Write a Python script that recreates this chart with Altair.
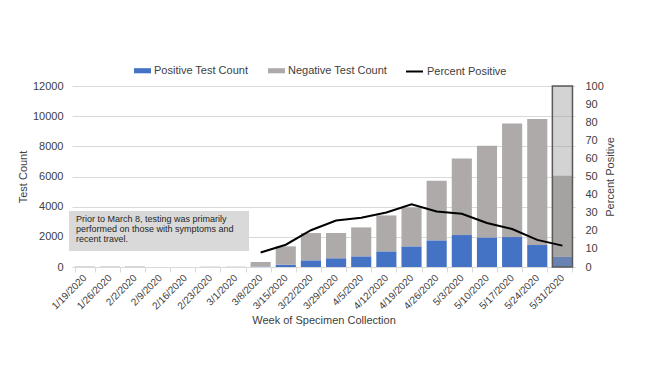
import altair as alt
import pandas as pd

weeks = ["1/19/2020", "1/26/2020", "2/2/2020", "2/9/2020", "2/16/2020", "2/23/2020",
         "3/1/2020", "3/8/2020", "3/15/2020", "3/22/2020", "3/29/2020", "4/5/2020",
         "4/12/2020", "4/19/2020", "4/26/2020", "5/3/2020", "5/10/2020", "5/17/2020",
         "5/24/2020", "5/31/2020"]
positive = [0, 0, 0, 0, 0, 0, 0, 28, 154, 441, 574, 706, 1037, 1368, 1766, 2118,
            1964, 1986, 1456, 684]
negative = [30, 30, 30, 0, 0, 20, 20, 303, 1214, 1809, 1676, 1920, 2383, 2582,
            3949, 5076, 6068, 7525, 8363, 5363]
pct_weeks = ["3/8/2020", "3/15/2020", "3/22/2020", "3/29/2020", "4/5/2020",
             "4/12/2020", "4/19/2020", "4/26/2020", "5/3/2020", "5/10/2020",
             "5/17/2020", "5/24/2020", "5/31/2020"]
pct_positive = [8.0, 12.3, 20.3, 25.7, 27.2, 30.1, 34.7, 30.7, 29.4, 24.3, 21.0, 15.0, 11.8]
partial_week = ["5/31/2020"]

series_names = ["Positive Test Count", "Negative Test Count"]
bar_colors = ["#4472C4", "#AEAAAA"]

rows = []
for w, p, n in zip(weeks, positive, negative):
    rows.append({"week": w, "series": series_names[0], "count": p, "ord": 0})
    rows.append({"week": w, "series": series_names[1], "count": n, "ord": 1})
bars_df = pd.DataFrame(rows)
line_df = pd.DataFrame({"week": pct_weeks, "pct": pct_positive,
                        "label": ["Percent Positive"] * len(pct_weeks)})
overlay_df = pd.DataFrame({"week": partial_week, "lo": [0], "hi": [12000]})
note_df = pd.DataFrame({"t": ["Prior to March 8, testing was primarily\nperformed on those with symptoms and\nrecent travel."]})

FONT = "Liberation Sans"

x_axis = alt.Axis(labelAngle=-45, labelAlign="right", labelBaseline="middle",
                  labelFontSize=10, labelColor="#404040", labelPadding=4,
                  tickBand="extent", tickSize=5, tickColor="#d9d9d9",
                  domainColor="#d9d9d9", titleFontSize=11,
                  titleFontWeight="normal", titleColor="#404040",
                  titlePadding=4, grid=False, labelOverlap=False)
x_scale = alt.Scale(domain=weeks, paddingInner=0.2, paddingOuter=0.1)

left_axis = alt.Axis(values=list(range(0, 12001, 2000)), format="d",
                     labelOverlap=False, tickSize=0, domain=False,
                     labelFontSize=11, labelColor="#404040", labelPadding=9,
                     grid=True, gridColor="#d9d9d9", titleFontSize=11,
                     titleFontWeight="normal", titleColor="#404040",
                     titlePadding=4)
left_scale = alt.Scale(domain=[0, 12000])

bars = alt.Chart(bars_df).mark_bar().encode(
    x=alt.X("week:N", sort=weeks, title="Week of Specimen Collection",
            scale=x_scale, axis=x_axis),
    y=alt.Y("count:Q", stack="zero", title="Test Count", scale=left_scale, axis=left_axis),
    fill=alt.Fill("series:N", scale=alt.Scale(domain=series_names, range=bar_colors),
                  legend=alt.Legend(orient="none", legendX=62, legendY=-24,
                                    direction="horizontal", title=None,
                                    symbolType="M-1,-0.3H1V0.3H-1Z", symbolSize=289,
                                    symbolStrokeWidth=0, labelFontSize=11,
                                    labelColor="#404040", labelOffset=3,
                                    columnPadding=19, padding=0)),
    order=alt.Order("ord:Q"),
)

overlay = alt.Chart(overlay_df).mark_bar(
    width=alt.RelativeBandSize(1.0), fill="#989898", fillOpacity=0.43,
    stroke="#595959", strokeWidth=1.5
).encode(
    x=alt.X("week:N", sort=weeks, title="Week of Specimen Collection",
            scale=x_scale, axis=x_axis),
    y=alt.Y("lo:Q", title="Test Count", scale=left_scale, axis=left_axis),
    y2="hi:Q",
)

note_box = alt.Chart(note_df).mark_rect(color="#d9d9d9").encode(
    x=alt.value(-3), x2=alt.value(177), y=alt.value(125), y2=alt.value(165)
)
note_text = alt.Chart(note_df).mark_text(
    align="left", baseline="top", fontSize=9, lineHeight=10, font=FONT,
    color="#262626", lineBreak="\n"
).encode(x=alt.value(4), y=alt.value(129), text="t:N")

line = alt.Chart(line_df).mark_line(strokeWidth=2).encode(
    x=alt.X("week:N", sort=weeks, title="Week of Specimen Collection",
            scale=x_scale, axis=x_axis),
    y=alt.Y("pct:Q", title="Percent Positive", scale=alt.Scale(domain=[0, 100]),
            axis=alt.Axis(orient="right", values=list(range(0, 101, 10)), tickSize=0,
                          labelOverlap=False, domain=False, grid=False, labelFontSize=11,
                          labelColor="#404040", labelPadding=10, titleFontSize=11,
                          titleFontWeight="normal", titleColor="#404040",
                          titleAngle=270, titlePadding=12)),
    stroke=alt.Stroke("label:N", scale=alt.Scale(domain=["Percent Positive"], range=["#000000"]),
                      legend=alt.Legend(orient="none", legendX=333, legendY=-24,
                                        title=None, symbolType="stroke", symbolSize=289,
                                        symbolStrokeWidth=2, labelFontSize=11,
                                        labelColor="#404040", labelOffset=3, padding=0)),
)

left = alt.layer(bars, overlay, note_box, note_text)
chart = alt.layer(left, line).resolve_scale(
    y="independent", fill="independent", stroke="independent"
).properties(
    width=503, height=181,
    autosize=alt.AutoSizeParams(type="none"),
    padding={"left": 64, "top": 78, "right": 68, "bottom": 100},
).configure(font=FONT).configure_view(stroke=None)

chart.save("out.html", embed_options={"renderer": "svg", "actions": False})
